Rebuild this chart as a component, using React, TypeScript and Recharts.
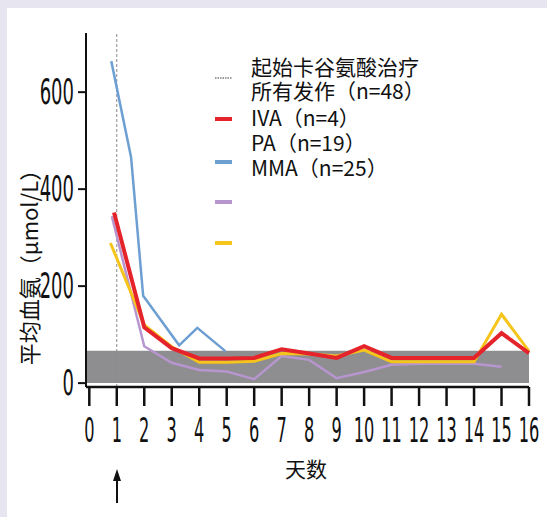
import { LineChart, Line, XAxis, YAxis, ReferenceArea, ReferenceLine } from 'recharts';

// days on the x axis
const dayTicks = [0, 1, 2, 3, 4, 5, 6, 7, 8, 9, 10, 11, 12, 13, 14, 15, 16];
const ammoniaTicks = [0, 200, 400, 600];

// 所有发作 (n=48)
const allDays = [0.9, 2, 3, 4, 5, 6, 7, 8, 9, 10, 11, 12, 13, 14, 15, 16];
const allValues = [352, 115, 72, 51, 51, 52, 70, 61, 52, 76, 52, 52, 52, 52, 103, 62];

// IVA (n=4)
const ivaDays = [0.8, 1.52, 1.96, 3.27, 3.93, 4.95];
const ivaValues = [664, 466, 180, 78, 114, 66];

// PA (n=19)
const paDays = [0.82, 2, 3, 4, 5, 6, 7, 8, 9, 10, 11, 12, 13, 14, 15];
const paValues = [344, 76, 42, 27, 24, 8, 56, 48, 10, 23, 38, 40, 40, 40, 34];

// MMA (n=25)
const mmaDays = [0.77, 2, 3, 4, 5, 6, 7, 8, 9, 10, 11, 12, 13, 14, 15, 16];
const mmaValues = [289, 120, 75, 43, 43, 45, 61, 60, 56, 68, 44, 44, 44, 44, 142, 66];

// normal range band
const normalLow = 0;
const normalHigh = 67;
const treatmentStartDay = 1;

const toPoints = (days: number[], values: number[]) =>
  days.map((d, i) => ({ day: d, value: values[i] }));

const allData = toPoints(allDays, allValues);
const ivaData = toPoints(ivaDays, ivaValues);
const paData = toPoints(paDays, paValues);
const mmaData = toPoints(mmaDays, mmaValues);

const RED = '#e5232b';
const BLUE = '#6d9fd3';
const PURPLE = '#b795cf';
const YELLOW = '#f6c51b';

const NARROW = '"Liberation Sans Narrow", "DejaVu Sans Condensed", Arial, sans-serif';
const CJK = '"Noto Sans CJK SC", "Noto Sans", sans-serif';

const XTick = ({ x, y, payload }: any) => (
  <text
    transform={`translate(${x},${y + 34}) scale(1,1.9)`}
    textAnchor="middle"
    fontFamily={NARROW}
    fontSize={18}
    fill="#111"
  >
    {payload.value}
  </text>
);

const YTick = ({ x, y, payload }: any) => (
  <text
    transform={`translate(${x},${y + 12}) scale(1,1.75)`}
    textAnchor="end"
    fontFamily={NARROW}
    fontSize={20}
    fill="#111"
  >
    {payload.value}
  </text>
);

const YTitle = ({ viewBox }: any) => {
  const cx = viewBox.x + 28;
  const cy = viewBox.y + 229;
  return (
    <text
      transform={`translate(${cx},${cy}) rotate(-90)`}
      textAnchor="middle"
      dominantBaseline="central"
      fontFamily={CJK}
      fontSize={22}
      fill="#111"
    >
      平均血氨（μmol/L）
    </text>
  );
};

const XTitle = ({ viewBox }: any) => (
  <text
    x={viewBox.x + 220}
    y={viewBox.y + 90}
    textAnchor="middle"
    fontFamily={CJK}
    fontSize={21}
    fill="#111"
  >
    天数
  </text>
);

const legendRows = [
  { label: '起始卡谷氨酸治疗', y: 66 },
  { label: '所有发作（n=48）', y: 90 },
  { label: 'IVA（n=4）', y: 117 },
  { label: 'PA（n=19）', y: 142 },
  { label: 'MMA（n=25）', y: 167 },
];

const legendSwatches = [
  { color: '#9a9a9a', y: 78, dotted: true },
  { color: RED, y: 119 },
  { color: BLUE, y: 162 },
  { color: PURPLE, y: 202 },
  { color: YELLOW, y: 243 },
];

export default function App() {
  return (
    <div style={{ position: 'absolute', left: 0, top: 0, width: 547, height: 517, background: '#e6e5f0' }}>
      <div style={{ position: 'absolute', left: 7, top: 8, right: 0, bottom: 0, background: '#fff' }} />
      <div style={{ position: 'absolute', left: 0, top: 0 }}>
        <LineChart width={547} height={517} margin={{ top: 33, right: 18, left: 0, bottom: 70 }}>
          <ReferenceArea y1={normalLow} y2={normalHigh} fill="#8e8e90" fillOpacity={1} stroke="none" />
          <ReferenceLine x={treatmentStartDay} stroke="#8a8a8a" strokeDasharray="3 2" strokeWidth={1} />
          <XAxis
            dataKey="day"
            type="number"
            domain={[-0.12, 16]}
            ticks={dayTicks}
            interval={0}
            height={60}
            allowDuplicatedCategory={false}
            stroke="#111"
            strokeWidth={2.5}
            tickSize={19}
            tickMargin={2}
            tick={<XTick />}
            label={<XTitle />}
          />
          <YAxis
            dataKey="value"
            type="number"
            domain={[-8, 722]}
            ticks={ammoniaTicks}
            width={86}
            stroke="#111"
            strokeWidth={2}
            tickSize={8}
            tickMargin={4}
            tick={<YTick />}
            label={<YTitle />}
          />
          <Line data={ivaData} dataKey="value" stroke={BLUE} strokeWidth={2.5} dot={false} isAnimationActive={false} />
          <Line data={paData} dataKey="value" stroke={PURPLE} strokeWidth={2.5} dot={false} isAnimationActive={false} />
          <Line data={mmaData} dataKey="value" stroke={YELLOW} strokeWidth={3} dot={false} isAnimationActive={false} />
          <Line data={allData} dataKey="value" stroke={RED} strokeWidth={4} dot={false} isAnimationActive={false} />
        </LineChart>
      </div>
      <svg style={{ position: 'absolute', left: 0, top: 0 }} width={547} height={517}>
        {legendSwatches.map((s, i) => (
          <line
            key={i}
            x1={215}
            x2={232}
            y1={s.y}
            y2={s.y}
            stroke={s.color}
            strokeWidth={s.dotted ? 2 : 4}
            strokeDasharray={s.dotted ? '1.5 1' : undefined}
          />
        ))}
        {legendRows.map((r, i) => (
          <text key={i} x={251} y={r.y} dominantBaseline="central" fontFamily={CJK} fontSize={21} fill="#111">
            {r.label}
          </text>
        ))}
        <line x1={117} x2={117} y1={478} y2={503} stroke="#111" strokeWidth={2} />
        <polygon points="117,469 113,481 121,481" fill="#111" />
      </svg>
    </div>
  );
}
